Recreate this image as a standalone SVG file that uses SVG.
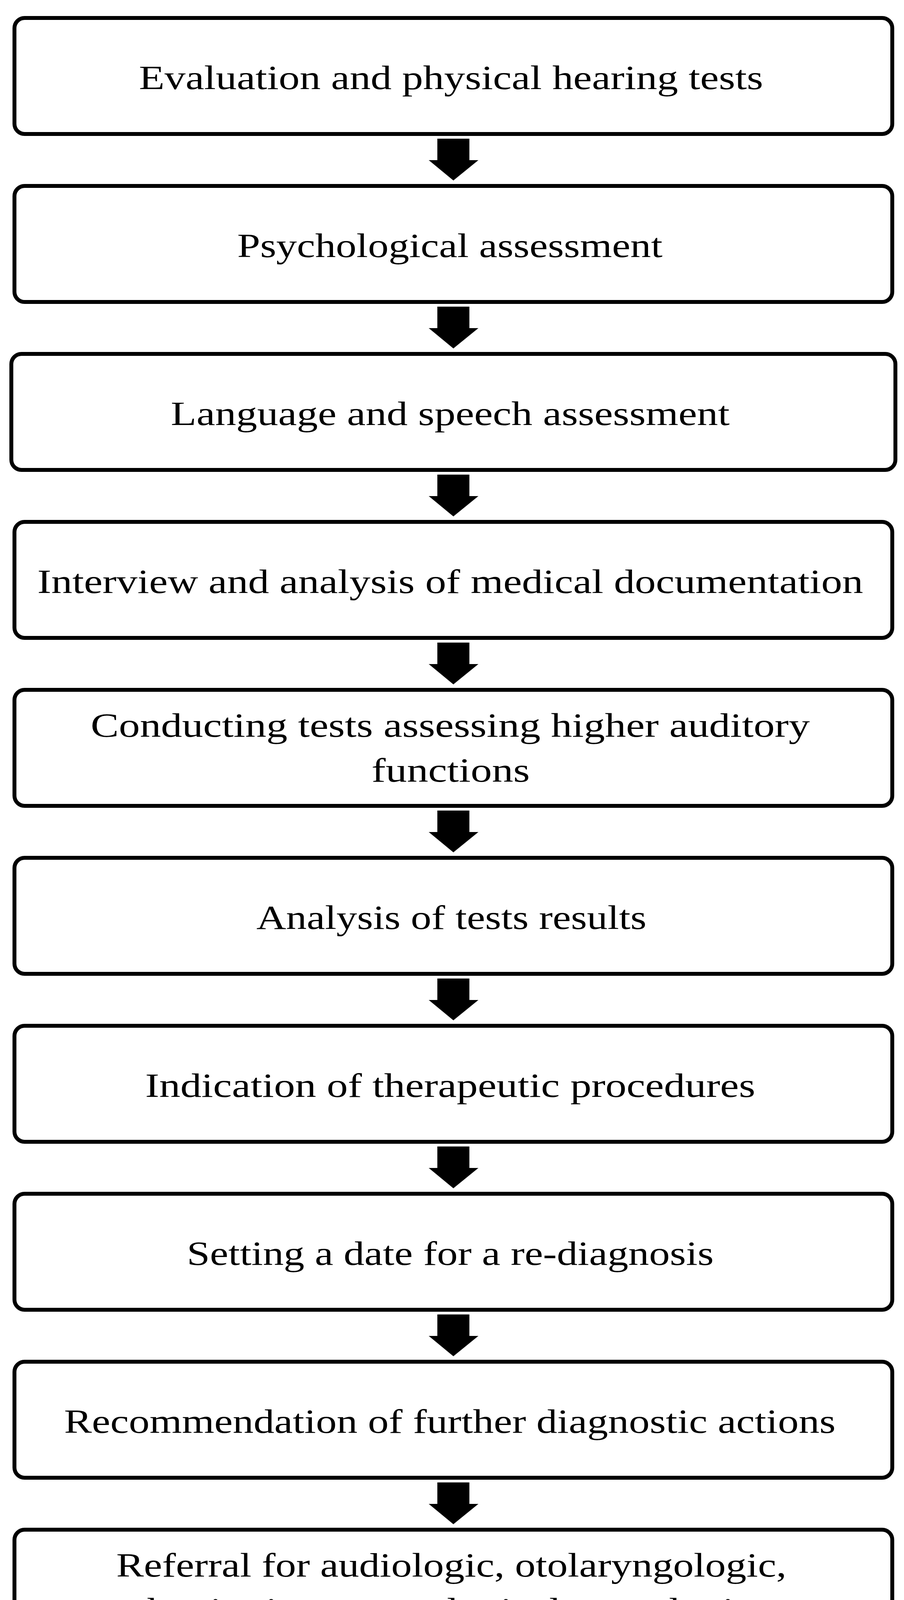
<svg xmlns="http://www.w3.org/2000/svg" width="2313" height="4261" viewBox="0 0 2313 4261">
<style>
.b{fill:#fff;stroke:#000;stroke-width:10}
.t{font-family:"Liberation Serif",serif;font-size:86px;fill:#000;text-anchor:middle}
.a{fill:#000}
</style>
<rect width="2313" height="4261" fill="#fff"/>
<g id="connectors">
<path class="a" d="M1119,355H1201V410H1224L1160,462L1097,410H1119Z"/>
<path class="a" d="M1119,785H1201V840H1224L1160,892L1097,840H1119Z"/>
<path class="a" d="M1119,1215H1201V1270H1224L1160,1322L1097,1270H1119Z"/>
<path class="a" d="M1119,1645H1201V1700H1224L1160,1752L1097,1700H1119Z"/>
<path class="a" d="M1119,2075H1201V2130H1224L1160,2182L1097,2130H1119Z"/>
<path class="a" d="M1119,2505H1201V2560H1224L1160,2612L1097,2560H1119Z"/>
<path class="a" d="M1119,2935H1201V2990H1224L1160,3042L1097,2990H1119Z"/>
<path class="a" d="M1119,3365H1201V3420H1224L1160,3472L1097,3420H1119Z"/>
<path class="a" d="M1119,3795H1201V3850H1224L1160,3902L1097,3850H1119Z"/>
</g>
<g id="n1"><rect class="b" x="37" y="46" width="2246" height="297" rx="26"/><text class="t" x="1154" y="228" textLength="1597" lengthAdjust="spacingAndGlyphs">Evaluation and physical hearing tests</text></g>
<g id="n2"><rect class="b" x="37" y="476" width="2246" height="297" rx="26"/><text class="t" x="1151" y="658" textLength="1088" lengthAdjust="spacingAndGlyphs">Psychological assessment</text></g>
<g id="n3"><rect class="b" x="29" y="906" width="2262" height="297" rx="26"/><text class="t" x="1152" y="1088" textLength="1430" lengthAdjust="spacingAndGlyphs">Language and speech assessment</text></g>
<g id="n4"><rect class="b" x="37" y="1336" width="2246" height="297" rx="26"/><text class="t" x="1152" y="1518" textLength="2113" lengthAdjust="spacingAndGlyphs">Interview and analysis of medical documentation</text></g>
<g id="n5"><rect class="b" x="37" y="1766" width="2246" height="297" rx="26"/><text class="t" x="1152" y="1886" textLength="1840" lengthAdjust="spacingAndGlyphs">Conducting tests assessing higher auditory</text><text class="t" x="1153" y="2001" textLength="405" lengthAdjust="spacingAndGlyphs">functions</text></g>
<g id="n6"><rect class="b" x="37" y="2196" width="2246" height="297" rx="26"/><text class="t" x="1155" y="2378" textLength="998" lengthAdjust="spacingAndGlyphs">Analysis of tests results</text></g>
<g id="n7"><rect class="b" x="37" y="2626" width="2246" height="297" rx="26"/><text class="t" x="1152" y="2808" textLength="1561" lengthAdjust="spacingAndGlyphs">Indication of therapeutic procedures</text></g>
<g id="n8"><rect class="b" x="37" y="3056" width="2246" height="297" rx="26"/><text class="t" x="1152" y="3238" textLength="1348" lengthAdjust="spacingAndGlyphs">Setting a date for a re-diagnosis</text></g>
<g id="n9"><rect class="b" x="37" y="3486" width="2246" height="297" rx="26"/><text class="t" x="1151" y="3668" textLength="1974" lengthAdjust="spacingAndGlyphs">Recommendation of further diagnostic actions</text></g>
<g id="n10"><rect class="b" x="37" y="3916" width="2246" height="297" rx="26"/><text class="t" x="1155" y="4036" textLength="1715" lengthAdjust="spacingAndGlyphs">Referral for audiologic, otolaryngologic,</text><text class="t" x="1154" y="4151" textLength="1662" lengthAdjust="spacingAndGlyphs">phoniatric or neurological consultation</text></g>
</svg>
